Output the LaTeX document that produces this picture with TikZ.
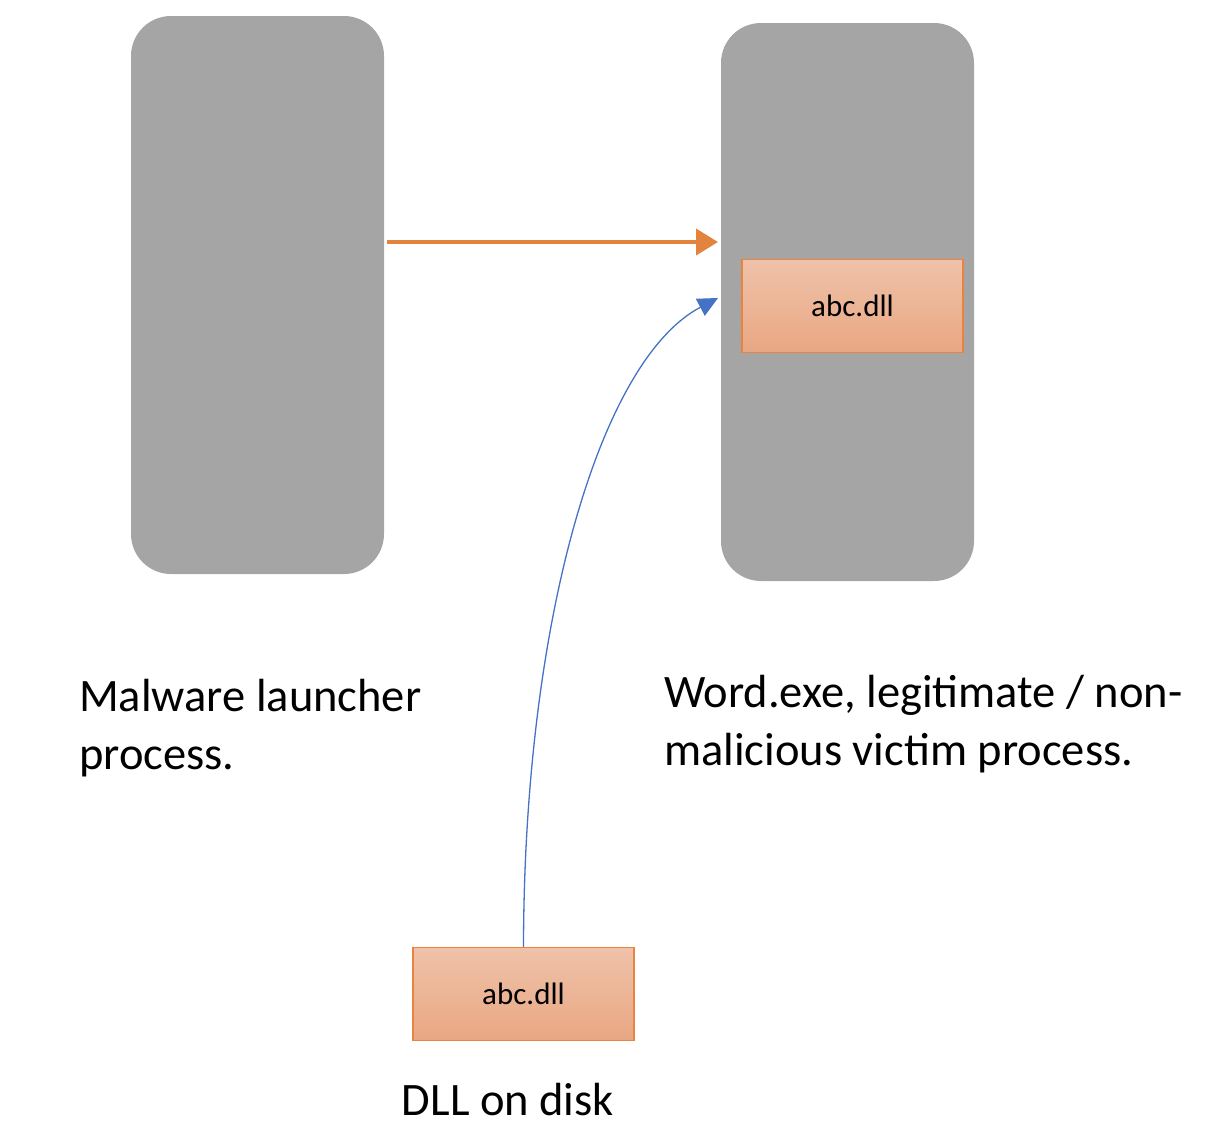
\documentclass[tikz,border=0pt]{standalone}
\usepackage{fontspec}
\setmainfont{Carlito}
\usetikzlibrary{arrows.meta}
\definecolor{procgray}{HTML}{A5A5A5}
\definecolor{dlltop}{HTML}{EFC2A9}
\definecolor{dllbot}{HTML}{E9A783}
\definecolor{dllborder}{HTML}{E8843F}
\definecolor{arroworange}{HTML}{E3843E}
\definecolor{arrowblue}{HTML}{4472C4}
\tikzset{
  proc/.style={fill=procgray, draw=none, rounded corners=40pt},
  dllbox/.style={draw=dllborder, line width=1.5pt, top color=dlltop, bottom color=dllbot,
    minimum width=221pt, minimum height=93pt, inner sep=0pt, font=\fontsize{31}{36}\selectfont},
  label/.style={font=\fontsize{46.5}{58}\selectfont, inner sep=0pt, align=left, anchor=base west},
}
\begin{document}
\begin{tikzpicture}[x=1pt,y=-1pt]
\useasboundingbox (0,0) rectangle (1208,1146);
\path[proc] (131,16) rectangle (384,574);
\path[proc] (721,23) rectangle (974,581);
\coordinate (leftend) at (387,242);
\coordinate (rightend) at (718,242);
\node[dllbox] (dll1) at (852.5,306) {abc.dll};
\node[dllbox] (dll2) at (523.5,994) {abc.dll};
\coordinate (bluetip) at (718,298);
\draw[arroworange, line width=4pt, -{Triangle[length=22pt,width=26pt]}] (leftend) -- (rightend);
\draw[arrowblue, line width=1.3pt, -{Triangle[length=20pt,width=19pt]}] (dll2.north) .. controls (524,620) and (600,360) .. (bluetip);
\node[label] (t1) at (79,769) {Malware launcher\\process.};
\node[label] (t2) at (664,765) {Word.exe, legitimate / non-\\malicious victim process.};
\node[font=\fontsize{46.5}{54}\selectfont, inner sep=0pt, anchor=base] (t3) at (508,1115) {DLL on disk};
\end{tikzpicture}
\end{document}
